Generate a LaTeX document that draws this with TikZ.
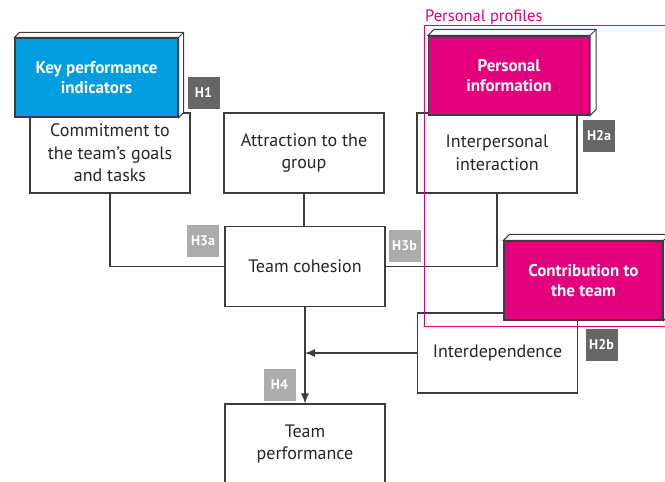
\documentclass[tikz,border=0pt]{standalone}
\usepackage{fontspec}
\setmainfont{PT Sans}
\usetikzlibrary{calc,arrows.meta}
\definecolor{kpimodra}{RGB}{0,157,224}
\definecolor{roza}{RGB}{228,0,124}
\definecolor{rob}{RGB}{60,60,60}
\definecolor{temnosiva}{RGB}{102,102,102}
\definecolor{svetlosiva}{RGB}{172,172,172}
\tikzset{
 okvir/.style={draw=rob,line width=1.1pt,fill=white,minimum width=160pt,minimum height=80pt,align=center,text=black!85,font=\fontsize{18}{22.5}\selectfont},
 barvni/.style={okvir,fill=#1,text=white,font=\fontsize{17}{20.5}\selectfont\bfseries},
 oznaka/.style={fill=#1,text=white,minimum size=32pt,inner sep=0pt,font=\fontsize{14}{14}\selectfont\bfseries},
 povezava/.style={draw=rob,line width=1.1pt},
}
\newcommand{\prizma}[2]{% ime vozlisca, globina
\filldraw[draw=rob,fill=white,line width=1pt] (#1.north west) -- ++(#2,-#2) -- ($(#1.north east)+(#2,-#2)$) -- ($(#1.south east)+(#2,-#2)$) -- (#1.south east) -- (#1.north east) -- cycle;
\draw[rob,line width=1pt] (#1.north east) -- ++(#2,-#2);
}
\begin{document}
\begin{tikzpicture}[x=1pt,y=-1pt]
	\useasboundingbox (0,0) rectangle (665,482);

	\node[okvir] (commit) at (110,153) {Commitment to\\the team’s goals\\and tasks};
	\node[okvir] (attract) at (304,153) {Attraction to the\\group};
	\node[okvir] (inter) at (497,153) {Interpersonal\\interaction};
	\node[okvir] (cohesion) at (305,266.5) {Team cohesion};
	\node[okvir] (interdep) at (497.5,353) {Interdependence};
	\node[okvir] (perf) at (305,444) {Team\\performance};

	\draw[povezava] (commit.south) |- (cohesion.west);
	\draw[povezava] (attract.south) -- (attract.south |- cohesion.north);
	\draw[povezava] (inter.south) |- (cohesion.east);
	\draw[povezava,-{Latex[length=10pt,width=8pt]}] (cohesion.south) -- (perf.north);
	\draw[povezava,-{Latex[length=10pt,width=8pt]}] (interdep.west) -- (interdep.west -| cohesion.south);

%	barvni kvadri
	\node[barvni=kpimodra,minimum width=163pt,minimum height=79pt] (kpi) at (96.5,77.5) {Key performance\\indicators};
	\prizma{kpi}{5}
	\node[barvni=roza,minimum width=161pt,minimum height=79pt] (persinfo) at (509,75.5) {Personal\\information};
	\prizma{persinfo}{6}
	\node[barvni=roza,minimum width=159pt,minimum height=79pt] (contrib) at (583.5,280.5) {Contribution to\\the team};
	\prizma{contrib}{6}

	\node[oznaka=temnosiva] (h1) at (203.5,92.5) {H1};
	\node[oznaka=temnosiva] (h2a) at (599,135.5) {H2a};
	\node[oznaka=temnosiva] (h2b) at (601.5,344.5) {H2b};
	\node[oznaka=svetlosiva] (h3a) at (203,241) {H3a};
	\node[oznaka=svetlosiva] (h3b) at (404.5,245.5) {H3b};
	\node[oznaka=svetlosiva] (h4) at (279.5,384.5) {H4};

	\draw[roza,line width=0.8pt] (424,25) rectangle (680,326);
	\node[text=roza,anchor=base west,inner sep=0pt,font=\fontsize{16.5}{18}\selectfont] (profiles) at (425,21) {Personal profiles};
\end{tikzpicture}
\end{document}
